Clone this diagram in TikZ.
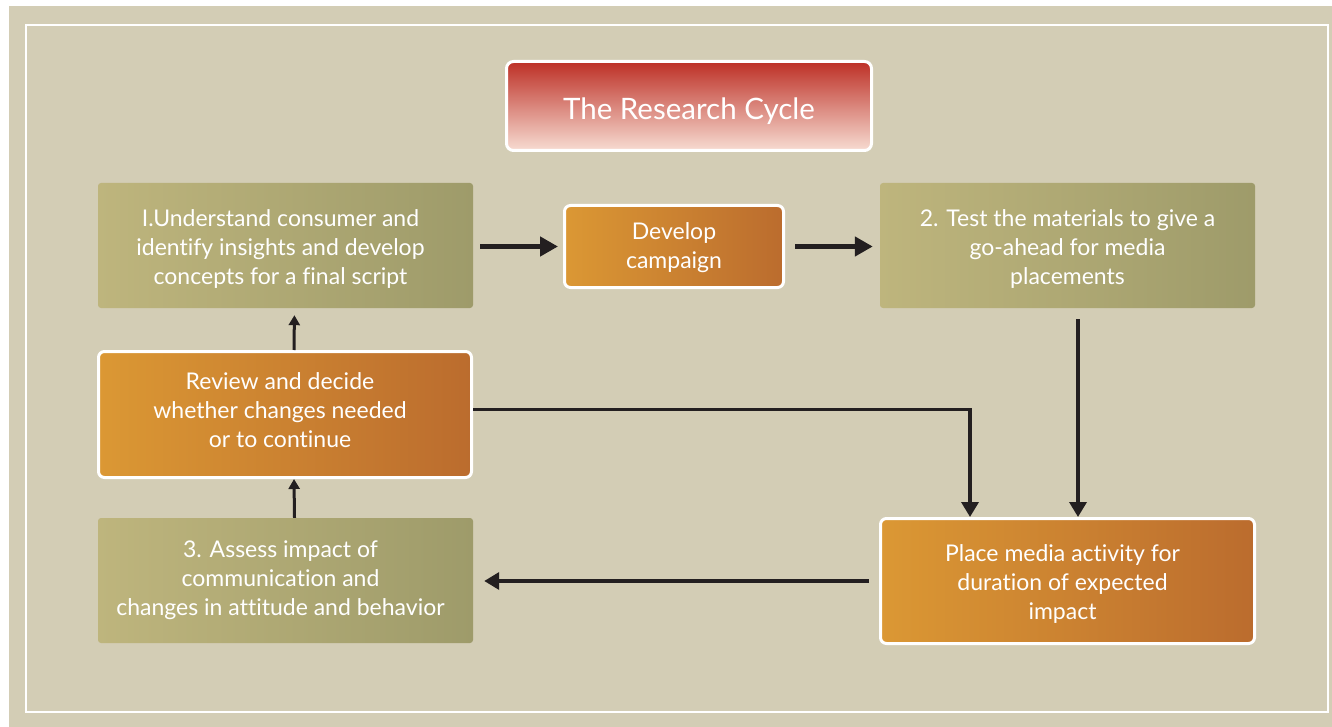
\documentclass[tikz,border=0pt]{standalone}
\usepackage{fontspec}
\setmainfont{Lato}[Ligatures=NoCommon]
\usetikzlibrary{arrows.meta}
\definecolor{beige}{RGB}{211,205,181}
\definecolor{ink}{RGB}{35,31,32}
\definecolor{grL}{RGB}{190,181,125}
\definecolor{grR}{RGB}{158,155,106}
\definecolor{orL}{RGB}{219,152,52}
\definecolor{orR}{RGB}{187,108,46}
\definecolor{rdT}{RGB}{189,48,38}
\definecolor{rdM}{RGB}{214,122,96}
\definecolor{rdB}{RGB}{247,220,210}
\newcommand{\lowerby}[2]{\raisebox{-#1}[\height][\depth]{#2}}
\tikzset{
  txt/.style={text=white, align=center, font=\fontsize{23}{29}\selectfont},
  greenbox/.style={txt, rounded corners=3pt, left color=grL, right color=grR, minimum width=375pt, minimum height=125pt, inner sep=0pt},
  orangebox/.style={txt, rounded corners=6pt, draw=white, line width=3pt, left color=orL, right color=orR, inner sep=0pt},
  titlebox/.style={rounded corners=7pt, draw=white, line width=3pt, top color=rdT, middle color=rdM, bottom color=rdB, text=white, font=\fontsize{29.5}{36}\selectfont, minimum width=365pt, minimum height=89pt},
  bigarrow/.style={draw=ink, line width=5pt, -{Triangle[length=18pt,width=19pt]}},
  midarrow/.style={draw=ink, line width=3.5pt, -{Triangle[length=15pt,width=17pt]}},
  smallarrow/.style={draw=ink, line width=3pt, -{Triangle[length=10pt,width=11pt]}}
}
\begin{document}
\begin{tikzpicture}[x=1pt,y=-1pt]
\path[use as bounding box] (0,0) rectangle (1332,727);
\fill[white] (0,0) rectangle (1332,727);
\fill[beige] (9,6) rectangle (1332,727);
\draw[white, line width=2.5pt] (26,25) rectangle (1328,712);

\node[titlebox] (title) at (689,106) {\lowerby{5pt}{The Research Cycle}};

\node[greenbox] (b1) at (285.5,245.5) {\hspace*{-10pt}\lowerby{4pt}{\parbox{360pt}{\centering I.Understand consumer and\\identify insights and develop\\concepts for a final script}}};
\node[orangebox, minimum width=219pt, minimum height=82pt] (dev) at (674,246.5) {\lowerby{1pt}{\parbox{200pt}{\centering Develop\\campaign}}};
\node[greenbox] (b2) at (1067.5,245.5) {\lowerby{4pt}{\parbox{360pt}{\centering 2. Test the materials to give a\\go-ahead for media\\placements}}};
\node[orangebox, minimum width=373pt, minimum height=126pt] (rev) at (285,414.5) {\hspace*{-10pt}\lowerby{-4pt}{\parbox{360pt}{\centering Review and decide\\whether changes needed\\or to continue}}};
\node[greenbox] (b3) at (285.5,580.5) {\hspace*{-10pt}\lowerby{0pt}{\parbox{360pt}{\centering 3. Assess impact of\\communication and\\changes in attitude and behavior}}};
\node[orangebox, minimum width=374pt, minimum height=125pt] (place) at (1067.5,581) {\hspace*{-10pt}\lowerby{3pt}{\parbox{360pt}{\centering Place media activity for\\duration of expected\\impact}}};

\draw[bigarrow, shorten <=7pt, shorten >=5pt] (b1.east |- dev.west) -- (dev.west);
\draw[bigarrow, shorten <=10pt, shorten >=7pt] (dev.east) -- (b2.west |- dev.east);
\draw[midarrow, shorten <=11pt] ([xshift=10.5pt]b2.south) -- ([xshift=10.5pt]place.north);
\draw[midarrow] ([yshift=5pt]rev.east) -| ([xshift=-97.5pt]place.north);
\draw[midarrow, shorten <=10pt, shorten >=11pt] (place.west) -- (b3.east |- place.west);
\draw[smallarrow] ([xshift=9pt]b3.north) -- ([xshift=9pt]rev.south);
\draw[smallarrow, shorten >=7pt] ([xshift=9pt]rev.north) -- ([xshift=9pt]b1.south);
\end{tikzpicture}
\end{document}
